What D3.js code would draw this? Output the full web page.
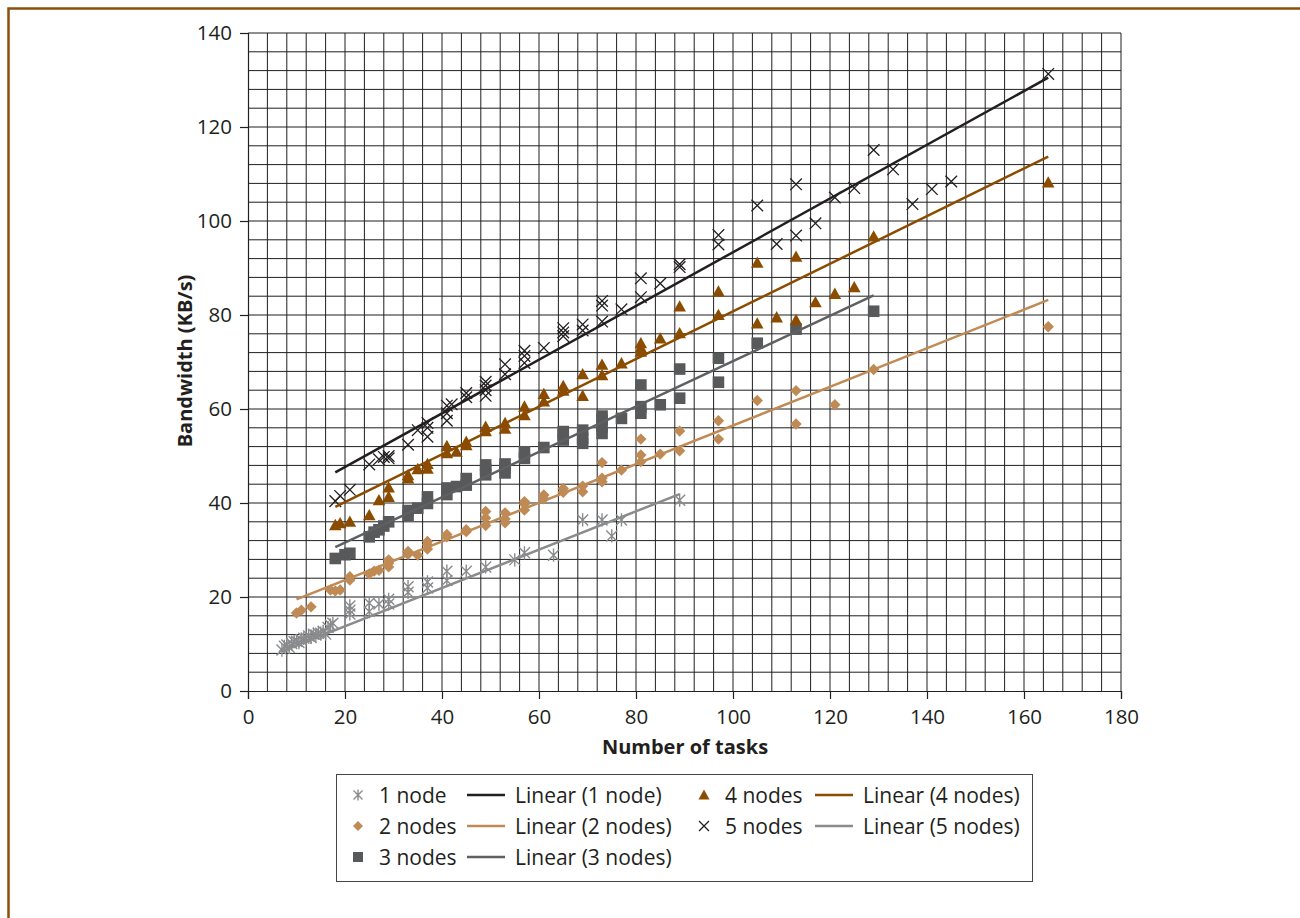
<!DOCTYPE html>
<html>
<head>
<meta charset="utf-8">
<script src="https://cdn.jsdelivr.net/npm/d3@7"></script>
<style>
  body { margin: 0; background: #fff; }
  svg { display: block; font-family: "Open Sans", sans-serif; }
</style>
</head>
<body>
<svg id="chart" width="1300" height="918"></svg>
<script>
// Data: [number of tasks, bandwidth KB/s]
const node1 = [[7,8.7],[7.5,9.5],[8,9.8],[8.5,9.3],[9,10.1],[9.5,10.5],[10,10.6],[10.5,10.3],[11,10.9],[11.5,11.2],
  [12,11.3],[12.5,11.7],[13,11.4],[13.5,12.1],[14,11.9],[14.5,12.3],[15,12.3],[15.5,12.7],[16,12.1],[16.5,13.5],
  [17,14.0],[17.5,14.4],[21,16.4],[21,17.2],[21,18.1],[25,16.9],[25,18.7],[27,18.5],[29,18.5],[29,19.5],
  [33,21.0],[33,22.2],[37,21.9],[37,23.2],[41,23.5],[41,25.5],[45,25.5],[49,26.4],[55,27.9],[57,29.4],
  [63,28.9],[69,36.4],[73,36.4],[75,33.0],[77,36.4],[89,40.6]];
const node2 = [[10,16.6],[11,17.2],[13,17.9],[17,21.5],[18,21.3],[19,21.5],[21,23.6],[21,24.3],[25,24.9],[26,25.5],
  [27,25.7],[29,26.4],[29,27.2],[29,27.9],[33,29.1],[33,29.7],[35,28.9],[37,30.2],[37,31.1],[37,31.8],
  [41,32.8],[41,33.3],[45,33.9],[45,34.3],[49,35.2],[49,36.8],[49,38.2],[53,35.8],[53,36.6],[53,37.9],
  [57,38.5],[57,39.8],[57,40.3],[61,40.9],[61,41.7],[65,42.3],[65,43.1],[69,42.4],[69,43.6],[73,44.5],
  [73,45.3],[73,48.6],[77,47.0],[81,48.8],[81,50.2],[81,53.6],[85,50.4],[89,51.1],[89,55.3],[97,53.6],
  [97,57.5],[105,61.8],[113,56.8],[113,63.9],[121,60.9],[129,68.4],[165,77.5]];
const node3 = [[18,28.2],[20,29.0],[21,29.3],[25,32.8],[26,33.8],[27,34.3],[28,35.1],[29,36.0],[33,37.4],[33,38.4],
  [35,38.9],[37,39.9],[37,41.3],[41,41.8],[41,43.2],[43,43.5],[45,43.8],[45,45.2],[49,46.0],[49,47.2],
  [49,48.1],[53,46.4],[53,47.5],[53,48.3],[57,49.5],[57,50.9],[61,51.8],[65,53.4],[65,54.5],[65,55.2],
  [69,52.7],[69,53.8],[69,55.5],[73,54.8],[73,56.2],[73,57.7],[73,58.5],[77,58.0],[81,59.1],[81,60.5],
  [81,65.1],[85,60.9],[89,62.3],[89,68.5],[97,65.7],[97,70.8],[105,74.0],[113,77.0],[129,80.8]];
const node4 = [[18,35.3],[19,35.7],[21,36.0],[25,37.4],[27,40.6],[29,41.3],[29,43.3],[33,45.2],[33,45.9],[35,47.2],
  [37,47.3],[37,48.3],[41,50.6],[41,52.1],[43,50.9],[45,52.3],[45,53.0],[49,55.3],[49,56.2],[53,55.8],
  [53,57.0],[57,58.7],[57,60.5],[61,61.6],[61,63.2],[65,63.9],[65,64.9],[69,62.8],[69,67.4],[73,67.2],
  [73,69.4],[77,69.7],[81,72.2],[81,73.0],[81,74.0],[85,75.0],[89,76.1],[89,81.8],[97,80.0],[97,85.0],
  [105,78.2],[105,91.1],[109,79.5],[113,78.9],[113,92.4],[117,82.7],[121,84.5],[125,85.9],[129,96.7],[165,108.2]];
const node5 = [[18,40.4],[19,41.5],[21,42.8],[25,48.2],[27,49.3],[28,49.8],[29,50.0],[29,49.5],[33,52.4],[35,55.5],
  [37,57.0],[37,56.0],[37,54.1],[41,60.7],[41,59.1],[41,57.5],[42,61.0],[45,62.5],[45,63.4],[49,62.8],
  [49,64.0],[49,65.0],[49,65.8],[53,67.4],[53,69.5],[57,69.8],[57,71.3],[57,72.4],[61,73.0],[65,75.5],
  [65,76.3],[65,77.2],[69,76.7],[69,78.0],[73,78.6],[73,82.0],[73,83.0],[77,81.2],[81,83.8],[81,87.8],
  [85,86.7],[89,90.2],[89,90.8],[97,95.0],[97,97.0],[105,103.3],[109,95.1],[113,96.9],[113,107.8],[117,99.5],
  [121,105.0],[125,107.0],[129,115.1],[133,111.0],[137,103.6],[141,106.8],[145,108.4],[165,131.3]];

// Trendline end points as drawn in the figure
const trend1 = [[7,8.5],[89,41.9]];
const trend2 = [[10,19.5],[165,83.2]];
const trend3 = [[18,30.6],[129,84.2]];
const trend4 = [[18,39.2],[165,113.7]];
const trend5 = [[18,46.5],[165,130.5]];

const xTicks = [0,20,40,60,80,100,120,140,160,180];
const yTicks = [0,20,40,60,80,100,120,140];

const legendRows = [
  ['1 node', 'Linear (1 node)', '4 nodes', 'Linear (4 nodes)'],
  ['2 nodes', 'Linear (2 nodes)', '5 nodes', 'Linear (5 nodes)'],
  ['3 nodes', 'Linear (3 nodes)', null, null]
];

const svg = d3.select('#chart');

// page frame
svg.append('path')
  .attr('d', 'M8.5,918 L8.5,8.5 L1300,8.5')
  .attr('fill', 'none')
  .attr('stroke', '#8c4f0e')
  .attr('stroke-width', 2.5);

const pLeft = 248, pRight = 1121, pTop = 33, pBottom = 691;
const x = d3.scaleLinear().domain([0, 180]).range([pLeft, pRight]);
const y = d3.scaleLinear().domain([0, 140]).range([pBottom, pTop]);

// grid
const grid = svg.append('g');
grid.selectAll('.vg')
  .data(d3.range(4, 181, 4))
  .enter().append('line')
  .attr('x1', d => x(d)).attr('x2', d => x(d))
  .attr('y1', pTop).attr('y2', pBottom)
  .attr('stroke', '#1f1f1f').attr('stroke-width', 1);
grid.selectAll('.hg')
  .data(d3.range(4, 141, 4))
  .enter().append('line')
  .attr('x1', pLeft).attr('x2', pRight)
  .attr('y1', d => y(d)).attr('y2', d => y(d))
  .attr('stroke', '#1f1f1f').attr('stroke-width', 1);

// axes
const xAxis = svg.append('g')
  .attr('transform', `translate(0,${pBottom})`)
  .call(d3.axisBottom(x).tickValues(xTicks).tickSize(8).tickPadding(10));
const yAxis = svg.append('g')
  .attr('transform', `translate(${pLeft},0)`)
  .call(d3.axisLeft(y).tickValues(yTicks).tickSize(8).tickPadding(8));
[xAxis, yAxis].forEach(a => {
  a.select('.domain').attr('stroke', '#231f20').attr('stroke-width', 1.2);
  a.selectAll('.tick line').attr('stroke', '#231f20').attr('stroke-width', 1.2);
  a.selectAll('.tick text')
    .attr('fill', '#231f20')
    .style('font-size', '20.5px')
    .style('font-family', '"Open Sans", sans-serif');
});

svg.append('text')
  .attr('x', 685)
  .attr('y', 754)
  .attr('text-anchor', 'middle')
  .attr('font-size', 20)
  .attr('font-weight', 'bold')
  .attr('fill', '#231f20')
  .text('Number of tasks');

svg.append('text')
  .attr('transform', `translate(192,361) rotate(-90)`)
  .attr('text-anchor', 'middle')
  .attr('font-size', 20)
  .attr('font-weight', 'bold')
  .attr('fill', '#231f20')
  .text('Bandwidth (KB/s)');

// marker drawers
const colors = {
  n1: '#8a8b8d', n2: '#c08a55', n3: '#58595b', n4: '#8b4c00', n5: '#231f20'
};
function asterisk(g, s, c) {
  g.append('path')
    .attr('d', `M${-s},${-s}L${s},${s}M${-s},${s}L${s},${-s}M0,${-s * 1.2}L0,${s * 1.2}`)
    .attr('stroke', c).attr('stroke-width', 1.4).attr('fill', 'none');
}
function cross(g, s, c) {
  g.append('path')
    .attr('d', `M${-s},${-s}L${s},${s}M${-s},${s}L${s},${-s}`)
    .attr('stroke', c).attr('stroke-width', 1.3).attr('fill', 'none');
}
function diamond(g, s, c) {
  g.append('path').attr('d', `M0,${-s}L${s},0L0,${s}L${-s},0Z`).attr('fill', c);
}
function square(g, s, c) {
  g.append('rect').attr('x', -s).attr('y', -s).attr('width', 2 * s).attr('height', 2 * s).attr('fill', c);
}
function triangle(g, s, c) {
  g.append('path').attr('d', `M0,${-s}L${s},${s * 0.8}L${-s},${s * 0.8}Z`).attr('fill', c);
}

function drawSeries(data, fn, size, color) {
  const g = svg.append('g');
  data.forEach(d => {
    const m = g.append('g').attr('transform', `translate(${x(d[0])},${y(d[1])})`);
    fn(m, size, color);
  });
}

drawSeries(node1, asterisk, 5.5, colors.n1);
drawSeries(node2, diamond, 5.7, colors.n2);
drawSeries(node3, square, 5.8, colors.n3);
drawSeries(node4, triangle, 6.3, colors.n4);
drawSeries(node5, cross, 5.8, colors.n5);

// trendlines
const line = d3.line().x(d => x(d[0])).y(d => y(d[1]));
[[trend1, colors.n1], [trend2, colors.n2], [trend3, '#5f6062'], [trend4, colors.n4], [trend5, colors.n5]]
  .forEach(([t, c]) => {
    svg.append('path').attr('d', line(t)).attr('stroke', c).attr('stroke-width', 2.5).attr('fill', 'none');
  });

// legend
const lg = svg.append('g');
lg.append('rect')
  .attr('x', 336.5).attr('y', 774.5).attr('width', 696).attr('height', 107)
  .attr('fill', '#fff').attr('stroke', '#444').attr('stroke-width', 1);

const markerFns = [[asterisk, colors.n1, 4.5], [diamond, colors.n2, 5], [square, colors.n3, 5],
                   [triangle, colors.n4, 5.5], [cross, colors.n5, 5]];
const lineColors = [colors.n5, colors.n2, '#5f6062', colors.n4, colors.n1];
const rowY = [795, 826, 857];
legendRows.forEach((row, ri) => {
  const yy = rowY[ri];
  [0, 1].forEach(ci => {
    const label = row[ci * 2];
    if (!label) return;
    const idx = ci === 0 ? ri : ri + 3;
    const mx = ci === 0 ? 358 : 704;
    const tx = ci === 0 ? 379 : 725;
    const lx = ci === 0 ? 467 : 815;
    const ltx = ci === 0 ? 515 : 863;
    const m = lg.append('g').attr('transform', `translate(${mx},${yy})`);
    markerFns[idx][0](m, markerFns[idx][2], markerFns[idx][1]);
    lg.append('text').attr('x', tx).attr('y', yy + 7.5).attr('font-size', 21).attr('fill', '#231f20').text(label);
    lg.append('line').attr('x1', lx).attr('x2', lx + 38).attr('y1', yy).attr('y2', yy)
      .attr('stroke', lineColors[idx]).attr('stroke-width', 2.5);
    lg.append('text').attr('x', ltx).attr('y', yy + 7.5).attr('font-size', 21).attr('fill', '#231f20').text(row[ci * 2 + 1]);
  });
});
</script>
</body>
</html>
